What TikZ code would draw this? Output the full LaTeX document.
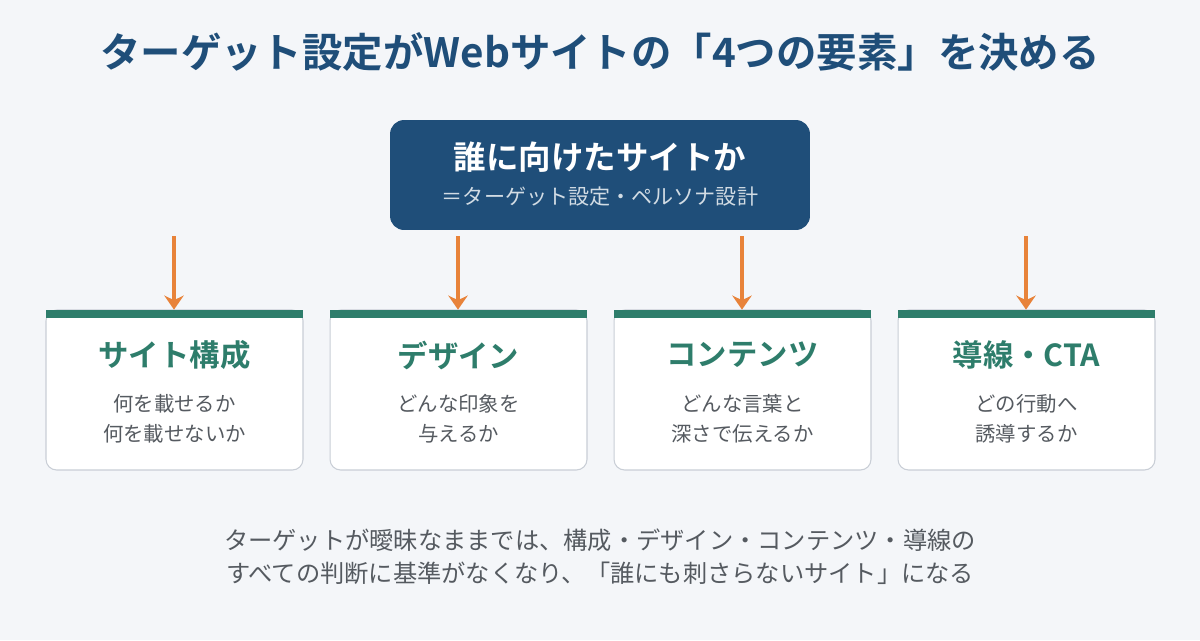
\documentclass[tikz,border=0pt]{standalone}
\usepackage{fontspec}
\setmainfont{Noto Sans CJK JP}
\newfontfamily\jpbold{Noto Sans CJK JP Bold}
\usetikzlibrary{positioning}
\definecolor{bgcol}{HTML}{F4F6F9}
\definecolor{navy}{HTML}{1F4E79}
\definecolor{teal}{HTML}{2E7D6B}
\definecolor{orng}{HTML}{E8833A}
\definecolor{txtgray}{HTML}{555A60}
\definecolor{edgegray}{HTML}{C9CED6}
\tikzset{
  card/.style={draw=edgegray, fill=white, rounded corners=6pt, minimum width=5.14cm, minimum height=3.2cm, line width=0.6pt},
  bar/.style={fill=teal, minimum width=5.14cm, minimum height=0.16cm, inner sep=0pt},
  cardtitle/.style={text=teal, font=\jpbold\fontsize{17.3}{20}\selectfont},
  cardbody/.style={text=txtgray, align=center, font=\fontsize{11.6}{17}\selectfont},
  down/.style={draw=orng, line width=2.2pt, -{Stealth[length=8pt,width=11pt]}},
}
\usetikzlibrary{arrows.meta}
\begin{document}
\begin{tikzpicture}[x=0.02cm, y=-0.02cm]
    % 背景
    \fill[bgcol] (0,0) rectangle (1200,640);
    % タイトル
    \node[text=navy, font=\jpbold\fontsize{23}{26}\selectfont] (title) at (600,52) {ターゲット設定がWebサイトの「4つの要素」を決める};
    % 中央ボックス
    \node[fill=navy, rounded corners=8pt, minimum width=8.4cm, minimum height=2.2cm] (target) at (600,175) {};
    \node[text=white, font=\jpbold\fontsize{18.5}{21}\selectfont] (tmain) at (600,157) {誰に向けたサイトか};
    \node[text=white!80!navy, font=\fontsize{12}{14}\selectfont] (tsub) at (600,197) {＝ターゲット設定・ペルソナ設計};
    % カード
    \node[card] (c1) at (174.5,390) {};
    \node[card] (c2) at (458.5,390) {};
    \node[card] (c3) at (742.5,390) {};
    \node[card] (c4) at (1026.5,390) {};
    \node[bar] (b1) at (174.5,314) {};
    \node[bar] (b2) at (458.5,314) {};
    \node[bar] (b3) at (742.5,314) {};
    \node[bar] (b4) at (1026.5,314) {};
    \node[cardtitle] (t1) at (174.5,355) {サイト構成};
    \node[cardtitle] (t2) at (458.5,355) {デザイン};
    \node[cardtitle] (t3) at (742.5,355) {コンテンツ};
    \node[cardtitle] (t4) at (1026.5,355) {導線・CTA};
    \node[cardbody] (d1) at (174.5,419) {何を載せるか\\何を載せないか};
    \node[cardbody] (d2) at (458.5,419) {どんな印象を\\与えるか};
    \node[cardbody] (d3) at (742.5,419) {どんな言葉と\\深さで伝えるか};
    \node[cardbody] (d4) at (1026.5,419) {どの行動へ\\誘導するか};
    % 矢印
    \coordinate (a1) at (174,236);
    \coordinate (a2) at (458,236);
    \coordinate (a3) at (742,236);
    \coordinate (a4) at (1026,236);
    \draw[down] (a1) -- (b1.north -| a1);
    \draw[down] (a2) -- (b2.north -| a2);
    \draw[down] (a3) -- (b3.north -| a3);
    \draw[down] (a4) -- (b4.north -| a4);
    % 注記
    \node[cardbody, font=\fontsize{13.8}{19}\selectfont] (note) at (600,557) {ターゲットが曖昧なままでは、構成・デザイン・コンテンツ・導線の\\すべての判断に基準がなくなり、「誰にも刺さらないサイト」になる};
\end{tikzpicture}
\end{document}
